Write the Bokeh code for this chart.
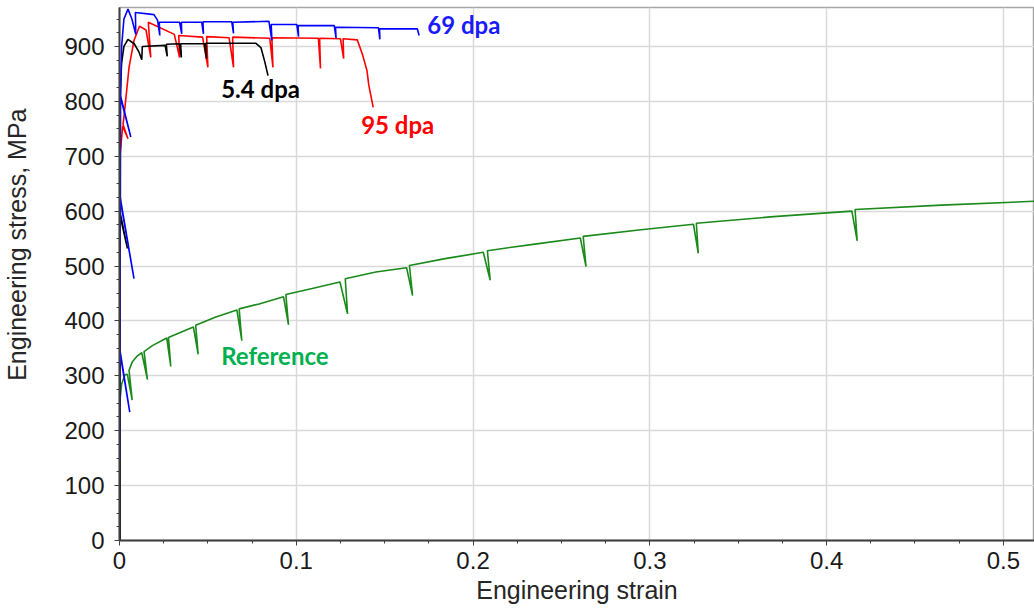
from bokeh.plotting import figure
from bokeh.models import Range1d, FixedTicker, Label, Title
from bokeh.embed import file_html
from bokeh.resources import INLINE

# ---- tensile curves (engineering strain, engineering stress in MPa) ----
ref_strain = [0.0000, 0.0001, 0.0012, 0.0031, 0.0044, 0.0072, 0.0054, 0.0072, 0.0100, 0.0126,
              0.0158, 0.0139, 0.0186, 0.0267, 0.0290, 0.0277, 0.0337, 0.0418, 0.0445, 0.0431,
              0.0545, 0.0664, 0.0692, 0.0677, 0.0790, 0.0928, 0.0956, 0.0941, 0.1090, 0.1247,
              0.1290, 0.1277, 0.1450, 0.1624, 0.1658, 0.1640, 0.1850, 0.2058, 0.2097, 0.2081,
              0.2350, 0.2607, 0.2639, 0.2623, 0.2950, 0.3247, 0.3274, 0.3263, 0.3700, 0.4143,
              0.4173, 0.4161, 0.4650, 0.5180]
ref_stress = [0, 250, 285, 302, 303, 256, 310, 325, 336, 342,
              293, 344, 355, 369, 317, 370, 378, 389, 339, 392,
              407, 420, 364, 422, 431, 444, 393, 448, 459, 471,
              413, 477, 489, 497, 446, 501, 514, 525, 474, 528,
              540, 551, 499, 554, 566, 576, 523, 578, 590, 600,
              546, 603, 611, 618]

dpa54_strain = [0.0003, 0.0003, 0.0045, 0.0005, 0.0005, 0.0012, 0.0025, 0.0048, 0.0083, 0.0110,
                0.0126, 0.0129, 0.0258, 0.0270, 0.0265, 0.0338, 0.0350, 0.0346, 0.0480, 0.0492,
                0.0488, 0.0770, 0.0800, 0.0822, 0.0840]
dpa54_stress = [0, 592, 532, 595, 820, 870, 900, 913, 905, 890,
                876, 900, 902, 882, 904, 905, 880, 905, 905, 878,
                906, 906, 898, 872, 847]

dpa95_strain = [0.0002, 0.0002, 0.0018, 0.0048, 0.0020, 0.0025, 0.0054, 0.0082, 0.0113, 0.0150,
                0.0177, 0.0163, 0.0310, 0.0340, 0.0335, 0.0470, 0.0500, 0.0493, 0.0620, 0.0645,
                0.0640, 0.0850, 0.0868, 0.0862, 0.1125, 0.1137, 0.1132, 0.1250, 0.1268, 0.1265,
                0.1345, 0.1375, 0.1400, 0.1410, 0.1435]
dpa95_stress = [0, 698, 755, 732, 758, 771, 862, 911, 937, 930,
                880, 944, 922, 880, 920, 917, 862, 918, 916, 862,
                917, 915, 862, 916, 915, 860, 915, 914, 878, 914,
                912, 885, 856, 830, 789]

dpa69_strain = [0.0001, 0.0001, 0.0058, 0.0002, 0.0003, 0.0082, 0.0004, 0.0005, 0.0064, 0.0006,
                0.0012, 0.0025, 0.0048, 0.0070, 0.0092, 0.0090, 0.0195, 0.0215, 0.0228, 0.0225,
                0.0340, 0.0352, 0.0350, 0.0465, 0.0475, 0.0472, 0.0635, 0.0645, 0.0641, 0.0845,
                0.0862, 0.0858, 0.1003, 0.1013, 0.1010, 0.1215, 0.1225, 0.1222, 0.1465, 0.1473,
                0.1471, 0.1685, 0.1695]
dpa69_stress = [145, 346, 234, 348, 623, 477, 625, 808, 735, 810,
                900, 950, 968, 950, 922, 962, 958, 948, 920, 944,
                944, 923, 944, 944, 923, 945, 945, 924, 944, 946,
                911, 940, 940, 918, 938, 938, 915, 935, 934, 913,
                932, 932, 920]

# ---- axis ticks ----
x_ticks = [0, 0.1, 0.2, 0.3, 0.4, 0.5]
x_tick_labels = ["0", "0.1", "0.2", "0.3", "0.4", "0.5"]
x_minor = [i * 0.025 for i in range(21)]
y_ticks = [0, 100, 200, 300, 400, 500, 600, 700, 800, 900]
y_minor = [i * 25 for i in range(39)]

series_names = ["Reference", "5.4 dpa", "95 dpa", "69 dpa"]

TICK_FONT = "Liberation Sans"
LABEL_FONT = "Lato"

p = figure(width=1034, height=609, output_backend="svg", toolbar_location=None,
           x_range=Range1d(0, 0.5176), y_range=Range1d(0, 971),
           min_border_left=0, min_border_right=0, min_border_top=7, min_border_bottom=69)
p.background_fill_color = "white"
p.border_fill_color = "white"
p.outline_line_color = "#a6a6a6"
p.outline_line_width = 1.5

p.xaxis.ticker = FixedTicker(ticks=x_ticks, minor_ticks=x_minor)
p.xaxis.major_label_overrides = {t: s for t, s in zip(x_ticks, x_tick_labels)}
p.yaxis.ticker = FixedTicker(ticks=y_ticks, minor_ticks=y_minor)

for ax in (p.xaxis[0], p.yaxis[0]):
    ax.axis_line_color = "#404040"
    ax.axis_line_width = 2
    ax.major_tick_line_color = "#404040"
    ax.minor_tick_line_color = "#404040"
    ax.major_tick_in = 0
    ax.major_tick_out = 5
    ax.minor_tick_in = 0
    ax.minor_tick_out = 3
    ax.major_label_text_font = TICK_FONT
    ax.major_label_text_font_size = "24px"
    ax.major_label_text_color = "#1a1a1a"
    ax.axis_label_text_font = TICK_FONT
    ax.axis_label_text_font_size = "25px"
    ax.axis_label_text_font_style = "normal"
    ax.axis_label_text_color = "#262626"

p.xaxis.major_label_standoff = 6
p.yaxis.major_label_standoff = 10
p.xaxis.axis_label = "Engineering strain"
p.xaxis.axis_label_standoff = 4

# pad between the y tick labels and the rotated y title
p.yaxis.axis_label = " "
p.yaxis.axis_label_standoff = 14
p.yaxis.axis_label_text_font_size = "12px"

p.xgrid.grid_line_color = "#d9d9d9"
p.ygrid.grid_line_color = "#d9d9d9"
p.xgrid.grid_line_width = 1.5
p.ygrid.grid_line_width = 1.5

# y-axis title, its upper end placed below the frame top
p.add_layout(Title(text="Engineering stress, MPa", align="right", offset=101,
                   text_font=TICK_FONT, text_font_size="25px", text_font_style="normal",
                   text_color="#262626", standoff=0), "left")

# curves
p.line(ref_strain, ref_stress, line_color="#1a8a1a", line_width=1.6)
p.line(dpa95_strain, dpa95_stress, line_color="#ff0000", line_width=1.6)
p.line(dpa54_strain, dpa54_stress, line_color="#000000", line_width=1.6)
p.line(dpa69_strain, dpa69_stress, line_color="#0000ff", line_width=1.6)

# curve names
name_colors = ["#00b050", "#000000", "#ff0000", "#1a1aff"]
name_x = [0.0575, 0.0575, 0.1367, 0.1741]
name_y = [337, 823, 758, 940]
for name, c, nx, ny in zip(series_names, name_colors, name_x, name_y):
    p.add_layout(Label(x=nx, y=ny, text=name, text_align="left", text_baseline="middle",
                       text_font=LABEL_FONT, text_font_style="bold", text_font_size="24px",
                       text_color=c))

open("out.html", "w").write(file_html(p, INLINE))
